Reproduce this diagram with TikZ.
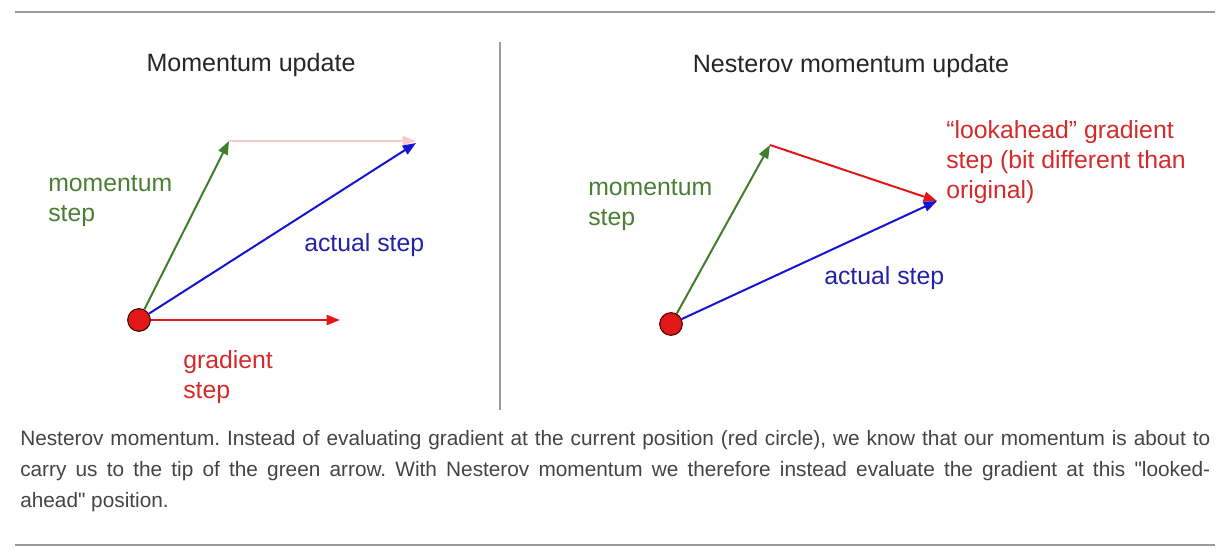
\documentclass[tikz,border=0pt]{standalone}
\usepackage{fontspec}
\setmainfont{Liberation Sans}
\newfontfamily\capfont{Liberation Sans}[Ligatures=ResetAll]
\usetikzlibrary{arrows.meta}
\definecolor{rulegray}{HTML}{9A9A9A}
\definecolor{mgreen}{HTML}{3F7F2A}
\definecolor{mblue}{HTML}{1414D2}
\definecolor{mred}{HTML}{E01818}
\definecolor{lblue}{HTML}{2222A8}
\definecolor{lred}{HTML}{D42A2A}
\definecolor{lgreen}{HTML}{4A7E35}
\definecolor{mpink}{HTML}{F4CCCC}
\definecolor{captext}{HTML}{444444}
\tikzset{
  vec/.style={line width=1.5pt,-{Triangle[length=10pt,width=7.5pt]}},
  dot/.style={circle,draw=black!70!red,line width=0.8pt,fill=mred,minimum size=17pt,inner sep=0pt},
  lbl/.style={font=\fontsize{18.6}{22.5}\selectfont,anchor=base west,inner sep=0pt,align=left},
  ttl/.style={font=\fontsize{18.8}{22.5}\selectfont,anchor=base,inner sep=0pt,text=black!85},
  rulel/.style={draw=rulegray,line width=1.6pt},
}
\begin{document}
\begin{tikzpicture}[x=0.75pt,y=-0.75pt]
\useasboundingbox (0,0) rectangle (1230,557);
% rules
\coordinate (t1) at (15,12); \coordinate (t2) at (1215,12);
\coordinate (b1) at (15,545); \coordinate (b2) at (1215,545);
\coordinate (v1) at (500,42); \coordinate (v2) at (500,410);
\draw[rulel] (t1) -- (t2);
\draw[rulel] (b1) -- (b2);
\draw[draw=rulegray,line width=1pt] (v1) -- (v2);
% titles
\node[ttl] (tl) at (251,71) {Momentum update};
\node[ttl] (tr) at (851,72) {Nesterov momentum update};
% left diagram
\node[dot] (c1) at (139,320) {};
\coordinate (lg) at (229,141);
\coordinate (lb) at (416,143);
\coordinate (lp) at (416,141);
\coordinate (lr) at (340,320);
\draw[vec,mpink,line width=1.2pt] (lg) -- (lp);
\draw[vec,mgreen] (c1) -- (lg);
\draw[vec,mblue] (c1) -- (lb);
\draw[vec,mred] (c1.east) -- (lr);
\node[lbl,text=lgreen] (lm1) at (48,221) {momentum\\step};
\node[lbl,text=lblue] (la1) at (304,251) {actual step};
\node[lbl,text=lred] (lgr) at (183,398) {gradient\\step};
% right diagram
\node[dot] (c2) at (671,324) {};
\coordinate (rg) at (770,145);
\coordinate (rt) at (937,201);
\draw[vec,mgreen] (c2) -- (rg);
\draw[vec,mred] (rg) -- (rt);
\draw[vec,mblue] (c2) -- (rt);
\node[lbl,text=lgreen] (lm2) at (588,225) {momentum\\step};
\node[lbl,text=lblue] (la2) at (824,284) {actual step};
\node[lbl,text=lred] (lla) at (946,198) {“lookahead” gradient\\step (bit different than\\original)};
% caption
\node[anchor=north west,inner sep=0pt,text width=892.5pt,align=justify,text=captext,
  font=\capfont\fontsize{15.6}{23.25}\selectfont\frenchspacing] (cap) at (20,430)
  {Nesterov momentum. Instead of evaluating gradient at the current position (red circle), we know that our momentum is about to\linebreak carry us to the tip of the green arrow. With Nesterov momentum we therefore instead evaluate the gradient at this "looked-\linebreak ahead" position.};
\end{tikzpicture}
\end{document}
